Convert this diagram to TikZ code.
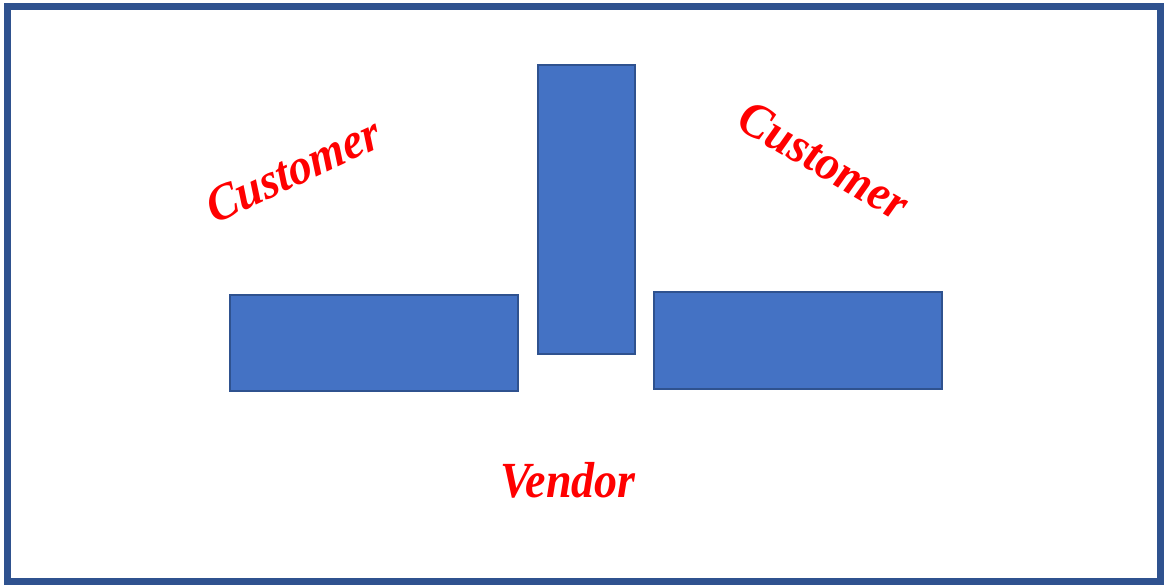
\documentclass[tikz,border=0pt]{standalone}
\usepackage{fontspec}
\setmainfont{Liberation Serif}
\definecolor{frameblue}{HTML}{2F528F}
\definecolor{boxblue}{HTML}{4472C4}
\begin{document}
\begin{tikzpicture}[x=1pt,y=-1pt,
  panel/.style={draw=frameblue,line width=2pt,fill=boxblue},
  label/.style={text=red,font=\fontsize{46}{46}\selectfont\bfseries\itshape,anchor=base,inner sep=0pt,yscale=1.1}]
\useasboundingbox (0,0) rectangle (1164,585);
\draw[frameblue,line width=7pt] (7,7) rectangle (1160,581);
\path[panel] (230,295) rectangle (518,391) coordinate (lb);
\path[panel] (538,65) rectangle (635,354) coordinate (mb);
\path[panel] (654,292) rectangle (942,389) coordinate (rb);
\node[label,rotate=23] (c1) at (299,185) {Customer};
\node[label,rotate=-28] (c2) at (817,175) {Customer};
\node[label] (v) at (568,497) {Vendor};
\end{tikzpicture}
\end{document}
